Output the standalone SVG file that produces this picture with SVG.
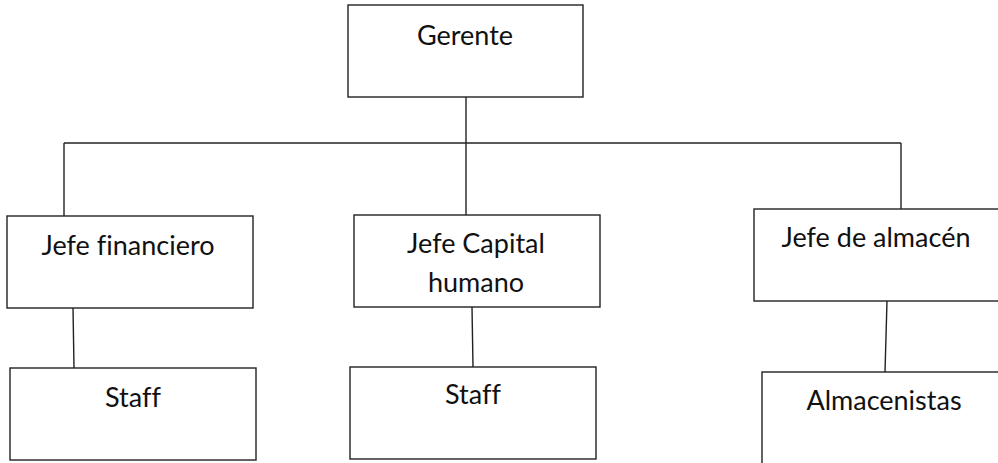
<svg xmlns="http://www.w3.org/2000/svg" width="998" height="463" viewBox="0 0 998 463">
<style>
.box{fill:#fff;stroke:#222;stroke-width:1.4}
.lbl{font-family:Lato,"Open Sans","Liberation Sans",sans-serif;font-size:27px;fill:#111;text-anchor:middle;font-variant-ligatures:none}
.con line{stroke:#222;stroke-width:1.4}
</style>
<rect width="998" height="463" fill="#fff"/>
<g class="con" id="connectors">
<line x1="466" y1="97" x2="466" y2="143"/>
<line x1="64" y1="143" x2="901" y2="143"/>
<line x1="64" y1="143" x2="64" y2="216"/>
<line x1="466" y1="143" x2="466" y2="215"/>
<line x1="901" y1="143" x2="901" y2="209"/>
<line x1="73" y1="308" x2="74" y2="368"/>
<line x1="472" y1="307" x2="473" y2="367"/>
<line x1="887" y1="301" x2="885" y2="372"/>
</g>
<g id="gerente"><rect class="box" x="348" y="5" width="235" height="92"/><text class="lbl" x="465" y="45">Gerente</text></g>
<g id="jefe-financiero"><rect class="box" x="7" y="216" width="246" height="92"/><text class="lbl" x="128" y="255">Jefe financiero</text></g>
<g id="staff-1"><rect class="box" x="10" y="368" width="246" height="92"/><text class="lbl" x="133" y="407">Staff</text></g>
<g id="jefe-capital"><rect class="box" x="354" y="215" width="246" height="92"/><text class="lbl" x="476" y="253">Jefe Capital</text><text class="lbl" x="476" y="292">humano</text></g>
<g id="staff-2"><rect class="box" x="350" y="367" width="246" height="92"/><text class="lbl" x="473" y="404">Staff</text></g>
<g id="jefe-almacen"><rect class="box" x="754" y="209" width="260" height="92"/><text class="lbl" x="876" y="247">Jefe de almacén</text></g>
<g id="almacenistas"><rect class="box" x="762" y="372" width="260" height="110"/><text class="lbl" x="884" y="410">Almacenistas</text></g>
</svg>
